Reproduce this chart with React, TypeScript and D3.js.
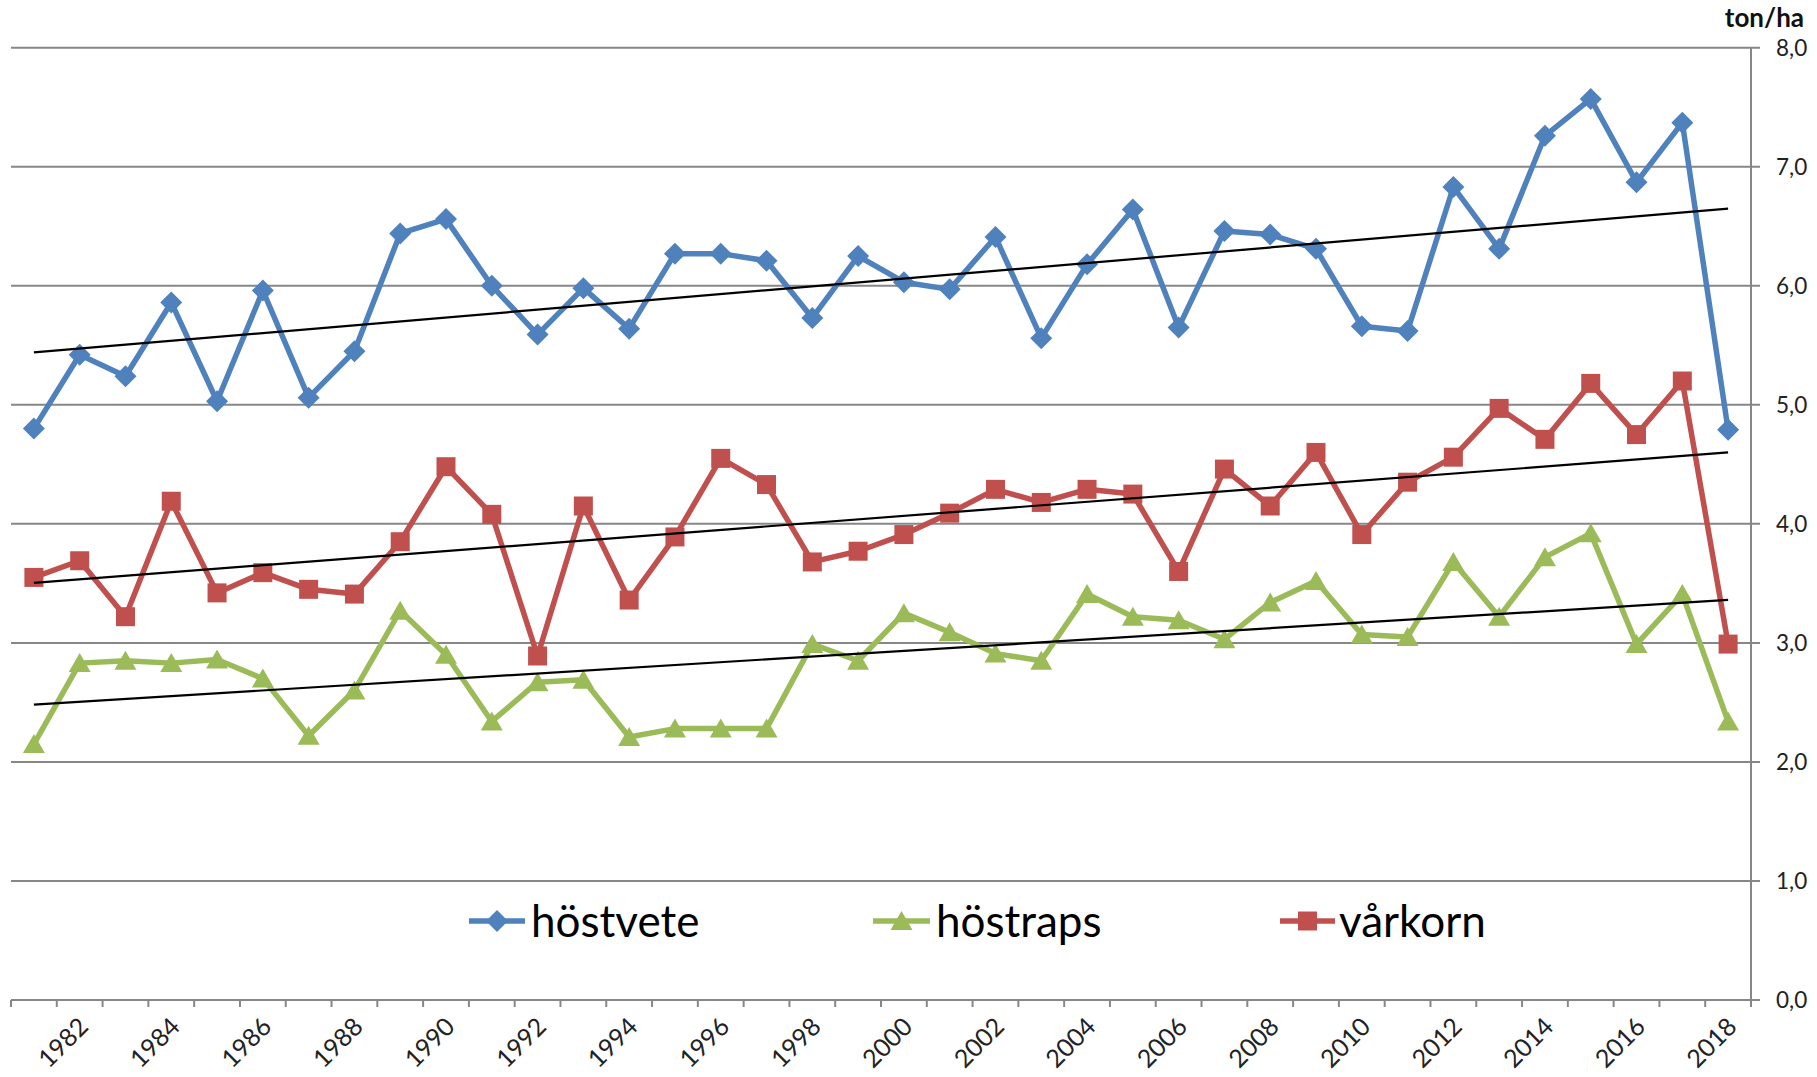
import * as d3 from "d3";

const years = [
  1981, 1982, 1983, 1984, 1985, 1986, 1987, 1988, 1989, 1990, 1991, 1992, 1993,
  1994, 1995, 1996, 1997, 1998, 1999, 2000, 2001, 2002, 2003, 2004, 2005, 2006,
  2007, 2008, 2009, 2010, 2011, 2012, 2013, 2014, 2015, 2016, 2017, 2018,
];

// ton/ha per year
const hostvete = [
  4.8, 5.42, 5.24, 5.86, 5.03, 5.96, 5.06, 5.45, 6.44, 6.56, 6.0, 5.59, 5.98,
  5.64, 6.27, 6.27, 6.21, 5.73, 6.25, 6.03, 5.97, 6.41, 5.56, 6.18, 6.64, 5.65,
  6.46, 6.43, 6.31, 5.66, 5.62, 6.83, 6.31, 7.26, 7.57, 6.87, 7.37, 4.79,
];
const hostraps = [
  2.15, 2.83, 2.85, 2.83, 2.86, 2.7, 2.22, 2.6, 3.27, 2.9, 2.34, 2.67, 2.69,
  2.21, 2.28, 2.28, 2.28, 2.99, 2.85, 3.25, 3.09, 2.91, 2.85, 3.41, 3.22, 3.19,
  3.03, 3.34, 3.52, 3.07, 3.05, 3.68, 3.22, 3.72, 3.92, 2.99, 3.41, 2.34,
];
const varkorn = [
  3.55, 3.69, 3.22, 4.19, 3.42, 3.59, 3.45, 3.41, 3.85, 4.48, 4.08, 2.89, 4.15,
  3.36, 3.89, 4.55, 4.33, 3.68, 3.77, 3.91, 4.09, 4.29, 4.18, 4.29, 4.25, 3.6,
  4.46, 4.15, 4.6, 3.91, 4.35, 4.56, 4.97, 4.71, 5.18, 4.75, 5.2, 2.99,
];

const yTicks = [0, 1, 2, 3, 4, 5, 6, 7, 8];
const xLabels = years.filter((yr) => yr % 2 === 0);

const W = 1817;
const H = 1077;
const plot = { left: 11, right: 1751, top: 47.7, bottom: 1000 };
const FONT = "Lato, 'Open Sans', sans-serif";
const GRID = "#878787";

type Marker = "diamond" | "triangle" | "square";

const series: Array<{ name: string; values: number[]; color: string; marker: Marker }> = [
  { name: "höstvete", values: hostvete, color: "#4f81bd", marker: "diamond" },
  { name: "höstraps", values: hostraps, color: "#9bbb59", marker: "triangle" },
  { name: "vårkorn", values: varkorn, color: "#c0504d", marker: "square" },
];

// legend entries: line span + text x, one row inside the plot
const legendPos = [
  { x0: 469, x1: 525, tx: 531 },
  { x0: 873, x1: 930, tx: 936 },
  { x0: 1280, x1: 1335, tx: 1339 },
];
const legendY = 921;

function markerPath(kind: Marker): string {
  if (kind === "diamond") return "M0,-11L11,0L0,11L-11,0Z";
  if (kind === "square") return "M-9.5,-9.5H9.5V9.5H-9.5Z";
  return "M0,-10L11,9L-11,9Z";
}

// ordinary least squares over the category index, like Excel's linear trendline
function trend(values: number[]): [number, number] {
  const n = values.length;
  const mx = d3.mean(values, (_, i) => i)!;
  const my = d3.mean(values)!;
  let sxy = 0;
  let sxx = 0;
  values.forEach((v, i) => {
    sxy += (i - mx) * (v - my);
    sxx += (i - mx) * (i - mx);
  });
  const slope = sxy / sxx;
  const icpt = my - slope * mx;
  return [icpt, icpt + slope * (n - 1)];
}

export default function App() {
  const x = d3.scaleBand<number>().domain(years).range([plot.left, plot.right]).padding(0);
  const cx = (yr: number) => (x(yr) ?? 0) + x.bandwidth() / 2;
  const y = d3.scaleLinear().domain([0, 8]).range([plot.bottom, plot.top]);

  const line = d3
    .line<number>()
    .x((_, i) => cx(years[i]))
    .y((d) => y(d));

  const fmt = (v: number) => v.toFixed(1).replace(".", ",");

  return (
    <svg
      width={W}
      height={H}
      style={{ position: "fixed", left: 0, top: 0, background: "#fff" }}
      fontFamily={FONT}
    >
      {/* gridlines + right axis ticks */}
      {yTicks.map((t) => (
        <g key={t}>
          <line x1={plot.left} x2={plot.right + 9} y1={y(t)} y2={y(t)} stroke={GRID} strokeWidth={2} />
          <text x={1776} y={y(t)} dy="0.35em" fontSize={22.5} fill="#222">
            {fmt(t)}
          </text>
        </g>
      ))}
      <line x1={plot.right} x2={plot.right} y1={plot.top} y2={plot.bottom} stroke={GRID} strokeWidth={2} />

      {/* bottom axis ticks */}
      {[...years, 0].map((yr, i) => {
        const xx = i < years.length ? x(yr)! : plot.right;
        return <line key={i} x1={xx} x2={xx} y1={plot.bottom} y2={plot.bottom + 7} stroke={GRID} strokeWidth={2} />;
      })}
      {xLabels.map((yr) => (
        <text
          key={yr}
          transform={`translate(${cx(yr) + 4},${plot.bottom + 22}) rotate(-45)`}
          textAnchor="end"
          dy="0.35em"
          fontSize={25}
          fill="#222"
        >
          {yr}
        </text>
      ))}

      <text x={1804} y={27} textAnchor="end" fontSize={26} fontWeight="bold" fill="#111">
        ton/ha
      </text>

      {/* series */}
      {series.map((s) => (
        <g key={s.name}>
          <path d={line(s.values) ?? ""} fill="none" stroke={s.color} strokeWidth={5.5} strokeLinejoin="round" />
          {s.values.map((v, i) => (
            <path key={i} d={markerPath(s.marker)} transform={`translate(${cx(years[i])},${y(v)})`} fill={s.color} />
          ))}
        </g>
      ))}

      {/* trendlines */}
      {series.map((s) => {
        const [a, b] = trend(s.values);
        return (
          <line
            key={s.name}
            x1={cx(years[0])}
            x2={cx(years[years.length - 1])}
            y1={y(a)}
            y2={y(b)}
            stroke="#000"
            strokeWidth={2.2}
          />
        );
      })}

      {/* legend */}
      {series.map((s, i) => {
        const p = legendPos[i];
        return (
          <g key={s.name}>
            <line x1={p.x0} x2={p.x1} y1={legendY} y2={legendY} stroke={s.color} strokeWidth={5.5} />
            <path d={markerPath(s.marker)} transform={`translate(${(p.x0 + p.x1) / 2},${legendY})`} fill={s.color} />
            <text x={p.tx} y={legendY} dy="0.36em" fontSize={44} fill="#000">
              {s.name}
            </text>
          </g>
        );
      })}
    </svg>
  );
}
